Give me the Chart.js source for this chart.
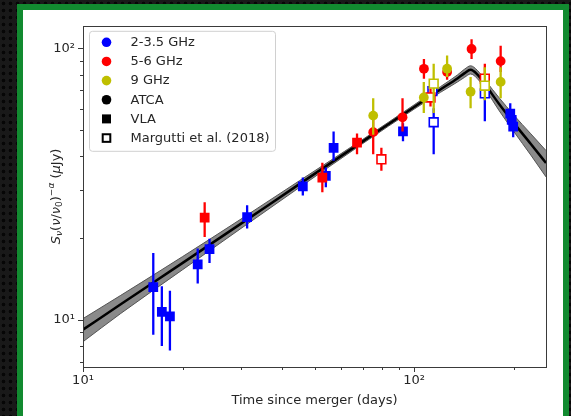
<!DOCTYPE html>
<html>
<head>
<meta charset="utf-8">
<script src="https://cdn.jsdelivr.net/npm/chart.js@4.4.1/dist/chart.umd.min.js"></script>
<style>
  html, body { margin: 0; padding: 0; }
  body {
    width: 571px; height: 416px; overflow: hidden; position: relative;
    background-color: #191919;
    background-image: radial-gradient(circle at center, #060606 1.5px, transparent 2.2px);
    background-size: 7px 7px;
  }
  #frame { position: absolute; left: 17px; top: 4px; width: 540px; height: 430px; border: 6px solid #128a30; background: #fff; }
  #c { position: absolute; left: 0; top: 0; }
</style>
</head>
<body>
<div id="frame"><canvas id="c" width="540" height="406"></canvas></div>
<script>
// Afterglow light curve: broken power-law fit plus radio detections by band / telescope.
const BLUE = '#0000ff', RED = '#ff0000', YELLOW = '#bfbf00';

// Model curve and its 1-sigma band
const modelDays = [10, 13, 20, 30, 45, 70, 100, 120, 135, 142, 148, 155, 165, 180, 200, 225, 250];
const modelFlux = [9.2, 11.4, 16.2, 22.6, 31.6, 45.4, 60.8, 70.5, 77.4, 81.0, 83.3, 80.2, 72.6, 62.6, 53.0, 44.4, 37.8];
const bandHigh  = [10.1, 12.3, 17.1, 23.5, 32.5, 46.2, 61.9, 72.2, 79.7, 83.8, 86.2, 83.0, 75.4, 66.0, 56.7, 48.4, 42.0];
const bandLow   = [8.3, 10.55, 15.3, 21.7, 30.7, 44.6, 59.7, 68.8, 75.1, 78.2, 80.4, 77.4, 69.8, 59.2, 49.3, 40.4, 33.6];

// 2-3.5 GHz
const blueVlaDays = [16.3, 17.3, 18.3, 22.2, 24.1, 31.3, 46.1, 54.1, 57.1, 92.5, 195, 197, 199];
const blueVlaFlux = [13.2, 10.7, 10.3, 16.0, 18.2, 23.9, 31.0, 33.9, 43.0, 49.4, 57.5, 54.5, 51.5];
const blueVlaLo   = [8.8, 8.0, 7.7, 13.6, 16.2, 21.7, 28.7, 30.8, 38.5, 45.5, 53.5, 50.5, 47.0];
const blueVlaHi   = [17.6, 13.3, 12.8, 18.3, 19.9, 26.4, 33.4, 36.4, 49.4, 53.0, 62.8, 58.5, 56.0];
const blueMarDays = [113.5, 114.5, 163.4];
const blueMarFlux = [69.5, 53.4, 68.2];
const blueMarLo   = [64.0, 40.7, 53.8];
const blueMarHi   = [75.0, 60.1, 74.0];

// 5-6 GHz
const redVlaDays  = [23.3, 52.8, 67.2];
const redVlaFlux  = [23.8, 33.4, 44.9];
const redVlaLo    = [20.2, 29.5, 40.7];
const redVlaHi    = [27.1, 37.9, 48.5];
const redAtcaDays = [75.2, 92.2, 107, 125.7, 149, 182.4];
const redAtcaFlux = [49.1, 55.7, 84.0, 81.8, 99.4, 89.7];
const redAtcaLo   = [40.7, 49.4, 77.3, 76.5, 91.4, 81.8];
const redAtcaHi   = [56.9, 65.4, 91.4, 87.0, 108, 102.2];
const redMarDays  = [79.6, 112, 163.4];
const redMarFlux  = [39.0, 65.9, 77.3];
const redMarLo    = [35.4, 61.0, 70.1];
const redMarHi    = [43.0, 71.1, 87.7];

// 9 GHz
const yelAtcaDays = [75.2, 106.9, 125.7, 148, 182.4];
const yelAtcaFlux = [56.5, 65.9, 84.1, 69.2, 75.2];
const yelAtcaLo   = [48.0, 57.7, 78.3, 60.1, 65.4];
const yelAtcaHi   = [65.4, 75.2, 94.0, 78.3, 85.2];
const yelMarDays  = [114.5, 163.4];
const yelMarFlux  = [74.1, 72.8];
const yelMarLo    = [57.7, 64.4];
const yelMarHi    = [87.7, 85.2];

const xTickValues = [10, 20, 30, 40, 50, 60, 70, 80, 90, 100, 200];
const yTickValues = [7, 8, 9, 10, 20, 30, 40, 50, 60, 70, 80, 90, 100];
const majorTicks = [10, 100];

const legendItems = [
  { label: '2-3.5 GHz', shape: 'circle', color: BLUE },
  { label: '5-6 GHz', shape: 'circle', color: RED },
  { label: '9 GHz', shape: 'circle', color: YELLOW },
  { label: 'ATCA', shape: 'circle', color: '#000' },
  { label: 'VLA', shape: 'rect', color: '#000' },
  { label: 'Margutti et al. (2018)', shape: 'open', color: '#000' },
];

const pts = (xs, ys) => xs.map((x, i) => ({ x, y: ys[i] }));

function obs(days, flux, lo, hi, color, kind, order) {
  const open = kind === 'open';
  return {
    data: pts(days, flux), errLo: lo, errHi: hi, barColor: color, order,
    showLine: false,
    pointStyle: kind === 'circle' ? 'circle' : 'rect',
    pointRadius: kind === 'circle' ? 4.9 : open ? 6.2 : 6.9,
    pointBackgroundColor: open ? '#fff' : color,
    pointBorderColor: color,
    pointBorderWidth: open ? 1.6 : 0,
  };
}

// error bars go down right before each series so later series sit on top
const errorBars = {
  id: 'errorBars',
  beforeDatasetDraw(chart, args) {
    const ds = chart.data.datasets[args.index];
    if (!ds.errLo) return;
    const { ctx, chartArea: a, scales: { x, y } } = chart;
    ctx.save();
    ctx.beginPath(); ctx.rect(a.left, a.top, a.width, a.height); ctx.clip();
    ctx.strokeStyle = ds.barColor; ctx.lineWidth = 2.3;
    ds.data.forEach((p, i) => {
      const px = x.getPixelForValue(p.x);
      ctx.beginPath();
      ctx.moveTo(px, y.getPixelForValue(ds.errLo[i]));
      ctx.lineTo(px, y.getPixelForValue(ds.errHi[i]));
      ctx.stroke();
    });
    ctx.restore();
  },
};

// frame, outward tick marks, legend box and the math y title
const decorations = {
  id: 'decorations',
  afterDraw(chart) {
    const { ctx, chartArea: a, scales: { x, y } } = chart;
    ctx.save();
    ctx.strokeStyle = '#3a3a3a'; ctx.lineWidth = 1;
    ctx.strokeRect(Math.round(a.left) + 0.5, Math.round(a.top) + 0.5, Math.round(a.width), Math.round(a.height));
    ctx.beginPath();
    xTickValues.forEach((v) => {
      const px = Math.round(x.getPixelForValue(v)) + 0.5;
      const len = majorTicks.includes(v) ? 5 : 3;
      ctx.moveTo(px, a.bottom); ctx.lineTo(px, a.bottom + len);
    });
    yTickValues.forEach((v) => {
      const py = Math.round(y.getPixelForValue(v)) + 0.5;
      const len = majorTicks.includes(v) ? 5 : 3;
      ctx.moveTo(a.left, py); ctx.lineTo(a.left - len, py);
    });
    ctx.stroke();

    // legend
    const lx = a.left + 6, ly = a.top + 5;
    ctx.fillStyle = 'rgba(255,255,255,0.85)';
    ctx.strokeStyle = '#d0d0d0';
    ctx.beginPath(); ctx.roundRect(lx + 0.5, ly + 0.5, 186, 120, 3); ctx.fill(); ctx.stroke();
    ctx.font = '13px "DejaVu Sans"';
    ctx.textBaseline = 'middle';
    legendItems.forEach((it, i) => {
      const cy = ly + 11.5 + i * 19.15, cx = lx + 17.5;
      if (it.shape === 'circle') {
        ctx.fillStyle = it.color;
        ctx.beginPath(); ctx.arc(cx, cy, 4.8, 0, Math.PI * 2); ctx.fill();
      } else if (it.shape === 'rect') {
        ctx.fillStyle = it.color; ctx.fillRect(cx - 4.5, cy - 4.5, 9, 9);
      } else {
        ctx.strokeStyle = it.color; ctx.lineWidth = 2;
        ctx.strokeRect(cx - 3.8, cy - 3.8, 7.6, 7.6);
      }
      ctx.fillStyle = '#262626';
      ctx.fillText(it.label, lx + 41.5, cy + 0.5);
    });

    // y title: S_nu (nu/nu_0)^-alpha (muJy)
    const parts = [
      ['S', 13, 0, 'italic '], ['ν', 9, 3, 'italic '], ['(', 13, 0, ''], ['ν', 13, 0, 'italic '],
      ['/', 13, 0, ''], ['ν', 13, 0, 'italic '], ['0', 9, 3, ''], [')', 13, 0, ''],
      ['−', 9, -5, ''], ['α', 9, -5, 'italic '], [' (', 13, 0, ''], ['μ', 13, 0, 'italic '], ['Jy)', 13, 0, ''],
    ];
    const fontOf = (p) => `${p[3]}${p[1]}px "DejaVu Sans"`;
    let total = 0;
    parts.forEach((p) => { ctx.font = fontOf(p); total += ctx.measureText(p[0]).width; });
    ctx.translate(33.5, a.top + a.height / 2);
    ctx.rotate(-Math.PI / 2);
    ctx.fillStyle = '#262626';
    ctx.textAlign = 'left';
    let tx = -total / 2;
    parts.forEach((p) => {
      ctx.font = fontOf(p);
      ctx.fillText(p[0], tx, p[2]);
      tx += ctx.measureText(p[0]).width;
    });
    ctx.restore();
  },
};

Chart.defaults.font.family = '"DejaVu Sans"';
Chart.defaults.font.size = 13;
Chart.defaults.color = '#262626';

new Chart(document.getElementById('c'), {
  type: 'line',
  data: {
    datasets: [
      { data: pts(modelDays, bandHigh), borderColor: '#555', borderWidth: 1, backgroundColor: '#8a8a8a', fill: '+1', pointRadius: 0, cubicInterpolationMode: 'monotone', order: 12 },
      { data: pts(modelDays, bandLow), borderColor: '#555', borderWidth: 1, fill: false, pointRadius: 0, cubicInterpolationMode: 'monotone', order: 11 },
      { data: pts(modelDays, modelFlux), borderColor: '#000', borderWidth: 2.5, fill: false, pointRadius: 0, cubicInterpolationMode: 'monotone', order: 10 },
      obs(blueVlaDays, blueVlaFlux, blueVlaLo, blueVlaHi, BLUE, 'rect', 8),
      obs(blueMarDays, blueMarFlux, blueMarLo, blueMarHi, BLUE, 'open', 7),
      obs(redVlaDays, redVlaFlux, redVlaLo, redVlaHi, RED, 'rect', 6),
      obs(redAtcaDays, redAtcaFlux, redAtcaLo, redAtcaHi, RED, 'circle', 5),
      obs(redMarDays, redMarFlux, redMarLo, redMarHi, RED, 'open', 4),
      obs(yelAtcaDays, yelAtcaFlux, yelAtcaLo, yelAtcaHi, YELLOW, 'circle', 3),
      obs(yelMarDays, yelMarFlux, yelMarLo, yelMarHi, YELLOW, 'open', 2),
    ],
  },
  options: {
    responsive: false,
    animation: false,
    events: [],
    layout: { padding: { top: 12, right: 17, left: 0, bottom: 0 } },
    plugins: { legend: { display: false }, tooltip: { enabled: false } },
    scales: {
      x: {
        type: 'logarithmic', min: 10, max: 250,
        grid: { display: false, drawTicks: false },
        border: { display: false },
        afterBuildTicks: (s) => { s.ticks = xTickValues.map((value) => ({ value })); },
        afterFit: (s) => { s.height = 49; },
        ticks: { autoSkip: false, maxRotation: 0, padding: 6, callback: (v) => (v === 10 ? '10¹' : v === 100 ? '10²' : '') },
        title: { display: true, text: 'Time since merger (days)', padding: { top: 0, bottom: 8 } },
      },
      y: {
        type: 'logarithmic', min: 6.7, max: 121,
        grid: { display: false, drawTicks: false },
        border: { display: false },
        afterBuildTicks: (s) => { s.ticks = yTickValues.map((value) => ({ value })); },
        afterFit: (s) => { s.width = 60; },
        ticks: { autoSkip: false, padding: 8, callback: (v) => (v === 10 ? '10¹' : v === 100 ? '10²' : '') },
      },
    },
  },
  plugins: [errorBars, decorations],
});
</script>
</body>
</html>
